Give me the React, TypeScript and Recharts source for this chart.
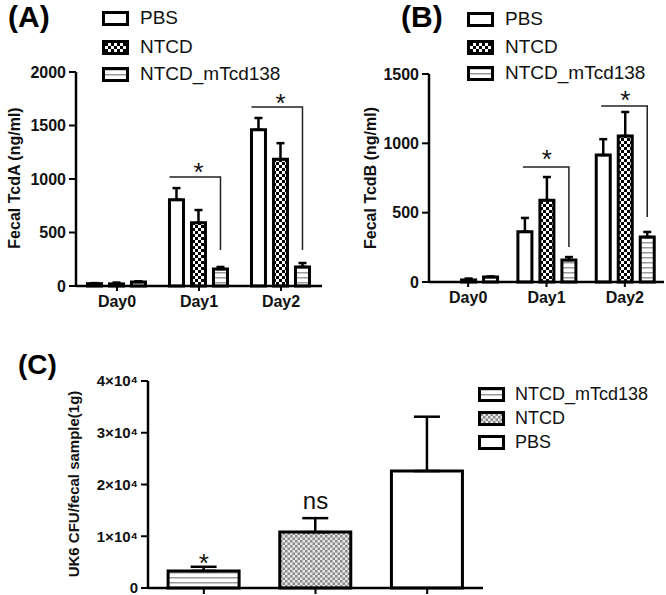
import React from 'react';
import { BarChart, Bar, XAxis, YAxis, ErrorBar, ReferenceDot, Label, LabelList, Cell } from 'recharts';

// ---------- data ----------
const days = ['Day0', 'Day1', 'Day2'];
const groupNames = ['PBS', 'NTCD', 'NTCD_mTcd138'];

const tcdA_PBS = [22, 805, 1460];
const tcdA_PBS_err = [5, 110, 110];
const tcdA_NTCD = [20, 590, 1185];
const tcdA_NTCD_err = [12, 120, 150];
const tcdA_mTcd = [38, 158, 178];
const tcdA_mTcd_err = [6, 20, 37];
const tcdA_ticks = [0, 500, 1000, 1500, 2000];

const tcdB_PBS = [0, 362, 915];
const tcdB_PBS_err = [null, 100, 115];
const tcdB_NTCD = [15, 590, 1053];
const tcdB_NTCD_err = [10, 167, 173];
const tcdB_mTcd = [36, 158, 324];
const tcdB_mTcd_err = [4, 22, 37];
const tcdB_ticks = [0, 500, 1000, 1500];

// significance brackets (PBS vs NTCD_mTcd138), values in ng/ml
const sigA_days = [1, 2];
const sigA_y = [1019, 1673];
const sigA_yEnd = [336, 336];
const sigA_starY = [1121, 1766];

const sigB_days = [1, 2];
const sigB_y = [829, 1269];
const sigB_yEnd = [252, 469];
const sigB_starY = [930, 1356];

const cfuGroups = ['NTCD_mTcd138', 'NTCD', 'PBS'];
const cfuValues = [3300, 10800, 22600];
const cfuErr = [800, 2700, 10500];
const cfuTicks = [0, 10000, 20000, 30000, 40000];
const cfuMarks = ['*', 'ns'];
const cfuMarkY = [4900, 16900];

// ---------- styles ----------
const FONT = '"Liberation Sans", Arial, sans-serif';
const BAR_GAP = 8;
const fills: Record<string, string> = {
  PBS: '#ffffff',
  NTCD: 'url(#chk)',
  NTCD_mTcd138: 'url(#str)',
};
const fillsC: Record<string, string> = {
  PBS: '#ffffff',
  NTCD: 'url(#chkC)',
  NTCD_mTcd138: 'url(#strC)',
};

const buildRows = (p: number[], pe: (number | null)[], n: number[], ne: (number | null)[], m: number[], me: (number | null)[]) =>
  days.map((d, i) => ({
    day: d,
    pbs: p[i],
    pbsErr: pe[i] == null ? undefined : [0, pe[i]],
    ntcd: n[i],
    ntcdErr: ne[i] == null ? undefined : [0, ne[i]],
    mtcd: m[i],
    mtcdErr: me[i] == null ? undefined : [0, me[i]],
  }));

const rowsA = buildRows(tcdA_PBS, tcdA_PBS_err, tcdA_NTCD, tcdA_NTCD_err, tcdA_mTcd, tcdA_mTcd_err);
const rowsB = buildRows(tcdB_PBS, tcdB_PBS_err, tcdB_NTCD, tcdB_NTCD_err, tcdB_mTcd, tcdB_mTcd_err);
const rowsC = cfuGroups.map((g, i) => ({ name: g, value: cfuValues[i], err: [0, cfuErr[i]] }));

const Patterns = () => (
  <svg width={0} height={0} style={{ position: 'absolute' }}>
    <defs>
      <pattern id="chk" width={6} height={6} patternUnits="userSpaceOnUse">
        <rect width={6} height={6} fill="#fff" />
        <rect width={3} height={3} fill="#000" />
        <rect x={3} y={3} width={3} height={3} fill="#000" />
      </pattern>
      <pattern id="str" width={6} height={5} patternUnits="userSpaceOnUse">
        <rect width={6} height={5} fill="#fff" />
        <rect y={2} width={6} height={1.5} fill="#9a9a9a" />
      </pattern>
      <pattern id="chkC" width={5} height={5} patternUnits="userSpaceOnUse">
        <rect width={5} height={5} fill="#e8e8e8" />
        <rect width={2.5} height={2.5} fill="#8a8a8a" />
        <rect x={2.5} y={2.5} width={2.5} height={2.5} fill="#8a8a8a" />
      </pattern>
      <pattern id="strC" width={6} height={5} patternUnits="userSpaceOnUse">
        <rect width={6} height={5} fill="#fff" />
        <rect y={2} width={6} height={1.5} fill="#9a9a9a" />
      </pattern>
    </defs>
  </svg>
);

const LegendBlock = ({ names, fillMap, left, boxLeft, tops, fontSize }: any) => (
  <>
    {names.map((nm: string, i: number) => (
      <div key={nm} style={{ position: 'absolute', top: tops[i] - 10, left: boxLeft, height: 20, display: 'flex', alignItems: 'center' }}>
        <svg width={27} height={15} style={{ display: 'block' }}>
          <rect x={1.5} y={1.5} width={24} height={12} fill={fillMap[nm]} stroke="#000" strokeWidth={3} />
        </svg>
        <span style={{ position: 'absolute', left: left - boxLeft, top: 0, lineHeight: '20px', fontSize, fontFamily: FONT, color: '#111', whiteSpace: 'nowrap' }}>{nm}</span>
      </div>
    ))}
  </>
);

const yLabel = (text: string, cx: number, cy: number, fs: number) => () => (
  <text x={cx} y={cy} transform={`rotate(-90 ${cx} ${cy})`} textAnchor="middle" dominantBaseline="central" fontSize={fs} fontWeight="bold" fontFamily={FONT} fill="#111">
    {text}
  </text>
);

// bracket drawn from the NTCD_mTcd138 bar geometry (bar scale: height / value)
const makeBracket = (vals: number[], sDays: number[], sY: number[], sYEnd: number[], sStar: number[], inset: number) => (props: any) => {
  const index = props.index;
  const k = sDays.indexOf(index);
  if (k < 0) return null;
  const vb = props.viewBox || {};
  const x = Number(vb.x ?? props.x);
  const y = Number(vb.y ?? props.y);
  const w = Number(vb.width ?? props.width);
  const h = Number(vb.height ?? props.height);
  const v = vals[index];
  if (!v || !isFinite(x) || !isFinite(h)) return null;
  const base = y + h;
  const ppu = h / v;
  const py = (val: number) => base - val * ppu;
  const pbsLeft = x - 2 * (w + BAR_GAP);
  const xStart = pbsLeft + inset;
  const xEnd = x + w / 2;
  const cx = pbsLeft + (3 * w + 2 * BAR_GAP) / 2;
  return (
    <g key={'br' + index}>
      <polyline points={`${xStart},${py(sY[k])} ${xEnd},${py(sY[k])} ${xEnd},${py(sYEnd[k])}`} fill="none" stroke="#222" strokeWidth={1.5} />
      <text x={cx} y={py(sStar[k]) + 15} textAnchor="middle" fontSize={26} fontFamily={FONT} fill="#111">*</text>
    </g>
  );
};

const tickStyle = { fontSize: 16, fontWeight: 'bold' as const, fill: '#111', fontFamily: FONT };

const PanelAB = ({ rows, mVals, ticks, max, sDays, sY, sYEnd, sStar, inset, catGap, yAxisW, marginRight, top, bottom, label, labelX }: any) => (
  <BarChart width={333} height={330} data={rows} margin={{ top, right: marginRight, bottom, left: 0 }} barCategoryGap={catGap} barGap={BAR_GAP}>
    <XAxis dataKey="day" tickSize={5} tickMargin={5} tick={tickStyle} axisLine={{ stroke: '#000', strokeWidth: 2.5 }} tickLine={{ stroke: '#000', strokeWidth: 2 }} height={30} interval={0} />
    <YAxis domain={[0, max]} ticks={ticks} interval={0} width={yAxisW} tickSize={7} tickMargin={3} tick={tickStyle} axisLine={{ stroke: '#000', strokeWidth: 2.5 }} tickLine={{ stroke: '#000', strokeWidth: 2 }}>
      <Label content={yLabel(label, labelX, 178, 16)} />
    </YAxis>
    <Bar dataKey="pbs" fill={fills.PBS} stroke="#000" strokeWidth={3} isAnimationActive={false}>
      <ErrorBar dataKey="pbsErr" direction="y" width={4} stroke="#000" strokeWidth={2.5} />
    </Bar>
    <Bar dataKey="ntcd" fill={fills.NTCD} stroke="#000" strokeWidth={3} isAnimationActive={false}>
      <ErrorBar dataKey="ntcdErr" direction="y" width={4} stroke="#000" strokeWidth={2.5} />
    </Bar>
    <Bar dataKey="mtcd" fill={fills.NTCD_mTcd138} stroke="#000" strokeWidth={3} isAnimationActive={false}>
      <ErrorBar dataKey="mtcdErr" direction="y" width={4} stroke="#000" strokeWidth={2.5} />
      <LabelList dataKey="mtcd" content={makeBracket(mVals, sDays, sY, sYEnd, sStar, inset)} />
    </Bar>
  </BarChart>
);

export default function App() {
  return (
    <div style={{ position: 'absolute', left: 0, top: 0, width: 666, height: 595, background: '#fff', fontFamily: FONT, overflow: 'hidden' }}>
      <Patterns />
      <div style={{ position: 'absolute', left: 0, top: 0 }}>
        <PanelAB rows={rowsA} mVals={tcdA_mTcd} ticks={tcdA_ticks} max={2000} sDays={sigA_days} sY={sigA_y} sYEnd={sigA_yEnd} sStar={sigA_starY}
          inset={0} catGap="14%" yAxisW={76} marginRight={11} top={72} bottom={14} label="Fecal TcdA (ng/ml)" labelX={14} />
      </div>
      <div style={{ position: 'absolute', left: 333, top: 0 }}>
        <PanelAB rows={rowsB} mVals={tcdB_mTcd} ticks={tcdB_ticks} max={1500} sDays={sigB_days} sY={sigB_y} sYEnd={sigB_yEnd} sStar={sigB_starY}
          inset={5} catGap="13.5%" yAxisW={96} marginRight={2} top={74} bottom={18} label="Fecal TcdB (ng/ml)" labelX={37} />
      </div>
      <div style={{ position: 'absolute', left: 0, top: 330 }}>
        <BarChart width={666} height={265} data={rowsC} margin={{ top: 51, right: 183, bottom: 0, left: 0 }} barCategoryGap="18%">
          <XAxis dataKey="name" tickFormatter={() => ''} tickSize={6} height={7} axisLine={{ stroke: '#000', strokeWidth: 2.5 }} tickLine={{ stroke: '#000', strokeWidth: 2 }} interval={0} />
          <YAxis domain={[0, 40000]} ticks={cfuTicks} interval={0} width={148} tickSize={7} tickMargin={3}
            tick={{ ...tickStyle, fontSize: 15 }} tickFormatter={(v: number) => (v === 0 ? '0' : `${v / 10000}×10⁴`)}
            axisLine={{ stroke: '#000', strokeWidth: 2.5 }} tickLine={{ stroke: '#000', strokeWidth: 2 }}>
            <Label content={yLabel('UK6 CFU/fecal sample(1g)', 73, 154, 15)} />
          </YAxis>
          <Bar dataKey="value" stroke="#000" strokeWidth={3} isAnimationActive={false}>
            {rowsC.map((r) => (
              <Cell key={r.name} fill={fillsC[r.name]} />
            ))}
            <ErrorBar dataKey="err" direction="y" width={13} stroke="#000" strokeWidth={2.5} />
          </Bar>
          {cfuMarks.map((m, i) => (
            <ReferenceDot key={m} x={cfuGroups[i]} y={cfuMarkY[i]} r={0} fill="none" stroke="none"
              label={{ value: m, position: 'center', fontSize: m === '*' ? 26 : 24, fill: '#111', fontFamily: FONT }} />
          ))}
        </BarChart>
      </div>

      <div style={{ position: 'absolute', left: 8, top: 0, lineHeight: '34px', fontSize: 30, fontWeight: 'bold', fontFamily: FONT }}>(A)</div>
      <div style={{ position: 'absolute', left: 401, top: 0, lineHeight: '34px', fontSize: 30, fontWeight: 'bold', fontFamily: FONT }}>(B)</div>
      <div style={{ position: 'absolute', left: 18, top: 348, lineHeight: '34px', fontSize: 28, fontWeight: 'bold', fontFamily: FONT }}>(C)</div>

      <LegendBlock names={groupNames} fillMap={fills} boxLeft={102} left={140} tops={[18, 47, 74]} fontSize={19} />
      <LegendBlock names={groupNames} fillMap={fills} boxLeft={467} left={505} tops={[19, 47, 73]} fontSize={19} />
      <LegendBlock names={cfuGroups} fillMap={fillsC} boxLeft={478} left={515} tops={[394, 418, 442]} fontSize={18} />
    </div>
  );
}
